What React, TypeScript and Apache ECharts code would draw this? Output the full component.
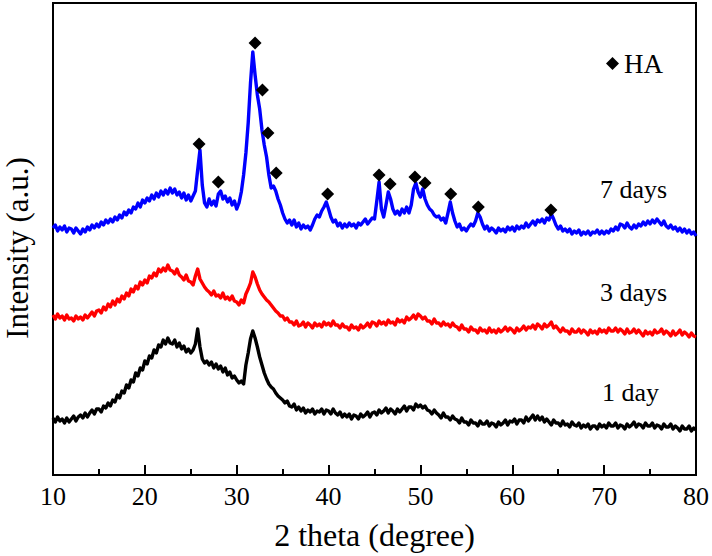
import React, { useEffect, useRef } from "react";
import * as echarts from "echarts";

// 2θ sampling of the digitised patterns
const THETA_START = 10;
const THETA_STEP = 0.25;

// 7 days (blue), intensity in a.u.
const DAYS7 = [
  247, 250, 244, 248, 245, 249, 243, 247, 246, 242, 247, 244, 241, 246, 243, 248,
  245, 250, 247, 251, 248, 253, 250, 255, 252, 256, 253, 258, 255, 260, 257, 263,
  260, 265, 262, 268, 266, 272, 268, 275, 272, 277, 274, 280, 276, 282, 278, 284,
  280, 285, 281, 287, 282, 286, 280, 283, 277, 282, 275, 280, 274, 279, 284, 305,
  325, 290, 272, 268, 276, 270, 274, 269, 281, 284, 276, 279, 273, 277, 270, 274,
  266, 272, 283, 300, 322, 352, 392, 423, 400, 380, 366, 345, 330, 318, 300, 287,
  289, 284, 276, 270, 262, 256, 252, 255, 250, 255, 248, 252, 246, 250, 247, 249,
  245, 250, 256, 260, 258, 264, 268, 273, 266, 258, 253, 255, 249, 252, 247, 251,
  248, 252, 249, 251, 247, 252, 250, 253, 256, 251, 254, 257, 256, 274, 293, 266,
  258, 270, 283, 276, 266, 261, 264, 260, 266, 262, 268, 262, 270, 286, 292, 283,
  278, 286, 276, 270, 266, 264, 260, 258, 259, 255, 257, 252, 262, 273, 262, 254,
  248, 251, 245, 247, 244, 248, 251, 249, 254, 262, 258, 251, 246, 249, 244, 247,
  245, 242, 247, 244, 246, 243, 248, 245, 248, 244, 249, 246, 249, 247, 252, 248,
  251, 254, 250, 255, 253, 256, 252, 257, 255, 261, 256, 250, 246, 249, 244, 246,
  243, 246, 241, 244, 242, 245, 240, 243, 241, 244, 240, 243, 242, 245, 241, 244,
  241, 244, 242, 246, 244, 248, 245, 251, 250, 247, 252, 248, 246, 250, 247, 251,
  249, 253, 250, 254, 251, 255, 252, 256, 253, 250, 254, 249, 247, 250, 246, 248,
  244, 247, 243, 246, 242, 245, 241, 243, 239,
];

// 3 days (red)
const DAYS3 = [
  160, 156, 161, 157, 159, 155, 160, 156, 157, 154, 159, 156, 158, 155, 160, 157,
  160, 163, 159, 164, 165, 162, 168, 165, 171, 168, 174, 170, 176, 173, 179, 176,
  182, 179, 186, 183, 189, 186, 193, 190, 195, 192, 199, 197, 202, 199, 206, 203,
  207, 204, 210, 205, 204, 201, 206, 200, 198, 195, 200, 194, 193, 190, 199, 206,
  196, 192, 188, 185, 183, 180, 184, 179, 180, 177, 182, 176, 178, 175, 179, 174,
  173, 170, 175, 172, 181, 186, 192, 203, 198, 191, 185, 181, 178, 175, 173, 170,
  167, 164, 162, 159, 159, 155, 157, 153, 153, 150, 154, 149, 150, 153, 148, 152,
  150, 147, 152, 149, 151, 148, 153, 150, 152, 149, 154, 150, 150, 147, 151, 148,
  148, 145, 150, 147, 148, 145, 150, 147, 149, 152, 148, 153, 152, 149, 154, 151,
  153, 150, 155, 152, 153, 150, 156, 153, 155, 152, 158, 155, 157, 160, 156, 161,
  159, 156, 158, 154, 154, 151, 156, 152, 152, 149, 153, 150, 151, 148, 152, 149,
  148, 145, 150, 146, 146, 143, 148, 145, 145, 142, 147, 144, 145, 142, 147, 143,
  145, 142, 146, 143, 145, 148, 144, 147, 145, 142, 147, 144, 146, 149, 145, 148,
  147, 150, 146, 151, 149, 146, 151, 148, 150, 153, 147, 149, 146, 143, 147, 144,
  144, 141, 146, 143, 143, 146, 142, 145, 143, 140, 145, 142, 144, 141, 146, 143,
  145, 142, 147, 144, 144, 147, 143, 146, 144, 141, 146, 142, 143, 146, 142, 145,
  142, 139, 144, 141, 143, 140, 145, 142, 143, 146, 141, 144, 142, 139, 144, 140,
  142, 145, 140, 143, 141, 138, 142, 139, 138,
];

// 1 day (black)
const DAY1 = [
  57, 53, 58, 54, 56, 52, 57, 53, 56, 59, 54, 58, 60, 57, 62, 58,
  62, 65, 61, 66, 66, 63, 69, 67, 72, 69, 75, 73, 80, 77, 84, 82,
  90, 87, 95, 93, 102, 99, 107, 105, 114, 111, 119, 117, 125, 122, 130, 128,
  135, 131, 137, 132, 131, 135, 128, 132, 126, 129, 123, 126, 122, 125, 131, 146,
  128, 116, 112, 114, 110, 113, 107, 111, 106, 109, 103, 107, 100, 103, 97, 99,
  95, 92, 94, 91, 110, 122, 136, 144, 137, 128, 118, 110, 102, 96, 91, 88,
  86, 82, 79, 77, 75, 72, 74, 69, 68, 71, 65, 68, 64, 67, 62, 65,
  63, 66, 61, 64, 63, 66, 61, 65, 64, 61, 66, 62, 60, 63, 58, 61,
  58, 61, 56, 60, 59, 56, 61, 58, 60, 63, 58, 62, 63, 60, 65, 62,
  64, 67, 62, 66, 64, 61, 66, 63, 66, 69, 64, 68, 68, 65, 71, 68,
  70, 67, 69, 65, 64, 61, 65, 62, 60, 57, 62, 58, 58, 55, 59, 56,
  55, 52, 57, 53, 53, 50, 55, 52, 52, 49, 54, 51, 51, 54, 49, 52,
  51, 48, 53, 50, 52, 55, 50, 54, 53, 56, 51, 55, 55, 52, 58, 54,
  57, 60, 55, 59, 55, 58, 53, 56, 53, 50, 55, 52, 52, 49, 54, 50,
  51, 48, 53, 50, 49, 52, 47, 50, 48, 51, 46, 49, 49, 46, 51, 48,
  50, 47, 52, 49, 49, 52, 47, 50, 49, 46, 51, 48, 50, 53, 48, 51,
  50, 47, 52, 49, 49, 52, 47, 50, 49, 46, 51, 48, 48, 51, 46, 49,
  47, 44, 49, 46, 46, 49, 44, 47, 45,
];

// HA reflections marked on the 7-day pattern
const HA_THETA = [25.9, 28.0, 32.0, 32.8, 33.4, 34.3, 39.9, 45.5, 46.7, 49.4, 50.5, 53.3, 56.3, 64.2];
const HA_MARK = [331, 293, 432, 385, 342, 302, 281, 300, 291, 298, 292, 281, 268, 265];

const X_TICKS = [10, 20, 30, 40, 50, 60, 70, 80];

const SERIF = "'Liberation Serif', 'Times New Roman', serif";

function toPairs(vals: number[]) {
  return vals.map((v, i) => [THETA_START + i * THETA_STEP, v]);
}

export default function App() {
  const ref = useRef<HTMLDivElement>(null);

  useEffect(() => {
    if (!ref.current) return;
    const chart = echarts.init(ref.current, undefined, { renderer: "svg" });
    const lineSeries = (name: string, vals: number[], color: string) => ({
      name,
      type: "line",
      data: toPairs(vals),
      showSymbol: false,
      symbol: "none",
      lineStyle: { color, width: 3.4, join: "round" },
      itemStyle: { color },
      z: 2,
    });
    chart.setOption({
      animation: false,
      backgroundColor: "#fff",
      grid: {
        left: 53,
        right: 14,
        top: 3,
        bottom: 81,
        show: true,
        borderColor: "#000",
        borderWidth: 2,
        backgroundColor: "transparent",
      },
      legend: {
        data: [{ name: "HA", icon: "diamond", itemStyle: { color: "#000", opacity: 1 } }],
        left: 601,
        top: 45,
        itemWidth: 13,
        itemHeight: 13,
        itemGap: 8,
        textStyle: { fontFamily: SERIF, fontSize: 27, color: "#000" },
      },
      xAxis: {
        type: "value",
        min: X_TICKS[0],
        max: X_TICKS[X_TICKS.length - 1],
        interval: 10,
        name: "2 theta (degree)",
        nameLocation: "middle",
        nameGap: 44,
        nameTextStyle: { fontFamily: SERIF, fontSize: 32, color: "#000" },
        axisLine: { show: true, onZero: false, lineStyle: { color: "#000", width: 2 } },
        axisTick: { show: true, inside: true, length: 10, lineStyle: { color: "#000", width: 2 } },
        minorTick: { show: true, splitNumber: 2, length: 6, lineStyle: { color: "#000", width: 2 } },
        axisLabel: { fontFamily: SERIF, fontSize: 26, color: "#000", margin: 8 },
        splitLine: { show: false },
      },
      yAxis: {
        type: "value",
        min: 0,
        max: 472,
        axisLine: { show: true, lineStyle: { color: "#000", width: 2 } },
        axisTick: { show: false },
        axisLabel: { show: false },
        splitLine: { show: false },
      },
      graphic: [
        {
          type: "text",
          x: 17,
          y: 248,
          rotation: Math.PI / 2,
          style: {
            text: "Intensity (a.u.)",
            font: `31px ${SERIF}`,
            fill: "#000",
            textAlign: "center",
            textVerticalAlign: "middle",
          },
        },
        { type: "text", left: 600, top: 176, style: { text: "7 days", font: `26px ${SERIF}`, fill: "#000" } },
        { type: "text", left: 600, top: 279, style: { text: "3 days", font: `26px ${SERIF}`, fill: "#000" } },
        { type: "text", left: 602, top: 379, style: { text: "1 day", font: `26px ${SERIF}`, fill: "#000" } },
      ],
      series: [
        lineSeries("1 day", DAY1, "#000000"),
        lineSeries("3 days", DAYS3, "#ff0000"),
        lineSeries("7 days", DAYS7, "#0000ff"),
        {
          name: "HA",
          type: "scatter",
          data: HA_THETA.map((t, i) => [t, HA_MARK[i]]),
          symbol: "diamond",
          symbolSize: 13,
          itemStyle: { color: "#000", opacity: 1 },
          z: 5,
        },
      ],
    });
    return () => chart.dispose();
  }, []);

  return (
    <div
      ref={ref}
      style={{ position: "absolute", left: 0, top: 0, width: 712, height: 556 }}
    />
  );
}
